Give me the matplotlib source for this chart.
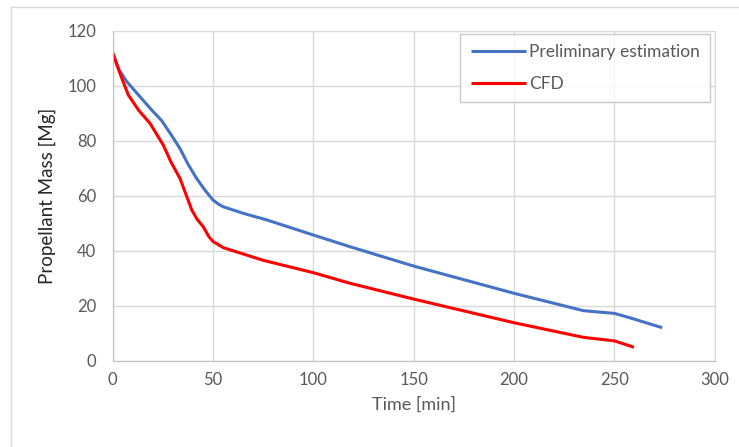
import matplotlib
matplotlib.use("Agg")
import matplotlib.pyplot as plt
from matplotlib.patches import Rectangle

# Propellant mass over time: preliminary estimate vs CFD result
time_prelim = [0, 3, 7, 13.6, 19, 24.4, 29, 33.5, 37.5, 41.8, 46, 50, 53, 55,
               65, 76.7, 100, 118, 150, 200, 234.5, 250, 257.7, 273.8]
mass_prelim = [112, 106, 101.5, 96, 91.5, 87.3, 82.3, 77.2, 71.5, 66.3, 62, 58.4,
               56.8, 56, 53.6, 51.2, 45.7, 41.5, 34.4, 24.5, 18.2, 17.2, 15.6, 12.0]

time_cfd = [0, 3.6, 7.8, 13, 18.6, 25.2, 29, 33.5, 37, 39.4, 42, 45.1, 48, 50.1,
            55.1, 75, 100, 118, 150, 200, 234.5, 250, 259.7]
mass_cfd = [112, 104.5, 96.6, 91, 86.3, 78.4, 72.3, 66.3, 59.5, 54.8, 51.5, 48.7, 45,
            43.3, 41.1, 36.5, 32.0, 28.2, 22.4, 13.8, 8.5, 7.2, 4.9]

x_ticks = [0, 50, 100, 150, 200, 250, 300]
y_ticks = [0, 20, 40, 60, 80, 100, 120]

W, H = 739, 447
text_color = "#595959"
grid_color = "#d9d9d9"

plt.rcParams["font.family"] = ["Lato", "DejaVu Sans"]

fig = plt.figure(figsize=(W / 100, H / 100), dpi=100)
fig.patch.set_facecolor("white")

# chart-area border (left and top edges visible)
fig.patches.append(Rectangle((11 / W, -0.05), 1.2, 1 - 7 / H + 0.05,
                             transform=fig.transFigure, fill=False,
                             edgecolor=grid_color, linewidth=1.0))

ax = fig.add_axes([112.7 / W, 1 - 360.7 / H, (714.8 - 112.7) / W, (360.7 - 30.7) / H])

ax.plot(time_prelim, mass_prelim, color="#4472C4", linewidth=2.2,
        label="Preliminary estimation", solid_capstyle="butt")
ax.plot(time_cfd, mass_cfd, color="#FF0000", linewidth=2.2,
        label="CFD", solid_capstyle="butt")

ax.set_xlim(0, 300)
ax.set_ylim(0, 120)
ax.set_xticks(x_ticks)
ax.set_yticks(y_ticks)
ax.grid(True, color=grid_color, linewidth=1.0)
ax.set_axisbelow(True)
for side in ["top", "right"]:
    ax.spines[side].set_color(grid_color)
for side in ["left", "bottom"]:
    ax.spines[side].set_color("#bfbfbf")
ax.tick_params(axis="both", length=0, labelsize=12, labelcolor=text_color)
ax.tick_params(axis="y", pad=12)
ax.tick_params(axis="x", pad=8)

ax.set_xlabel("Time [min]", fontsize=13, color=text_color, labelpad=6)
ax.set_ylabel("Propellant Mass [Mg]", fontsize=13.5, color="#262626", labelpad=8)

leg = ax.legend(loc="upper right", bbox_to_anchor=(0.992, 0.99), fontsize=12.5,
                frameon=True, fancybox=False, edgecolor="#bfbfbf",
                handlelength=3.2, handletextpad=0.15, labelspacing=0.9,
                borderpad=0.6, borderaxespad=0)
leg.get_frame().set_linewidth(1.0)
for t in leg.get_texts():
    t.set_color(text_color)

fig.savefig("out.png", dpi=100, facecolor="white")
